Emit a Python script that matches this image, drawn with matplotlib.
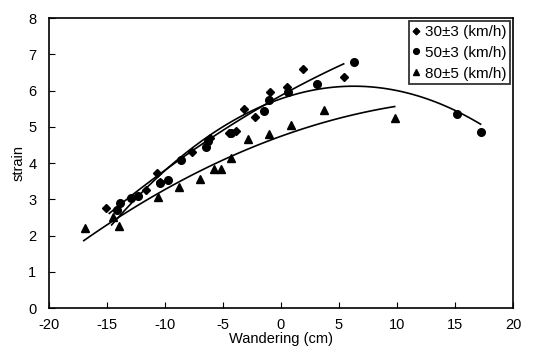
import numpy as np
import matplotlib
matplotlib.use("Agg")
import matplotlib.pyplot as plt

plt.rcParams['font.family'] = ['Liberation Sans', 'DejaVu Sans']
plt.rcParams['axes.unicode_minus'] = False

# 30±3 km/h
x30 = [-15.1, -11.6, -10.7, -10.4, -7.7, -6.1, -4.5, -3.9, -3.2, -2.2, -0.95, 0.5, 1.9, 5.4]
y30 = [2.76, 3.26, 3.72, 3.48, 4.30, 4.69, 4.83, 4.88, 5.49, 5.27, 5.96, 6.10, 6.59, 6.37]
# 50±3 km/h
x50 = [-13.9, -14.1, -12.9, -12.3, -10.45, -9.75, -8.6, -6.5, -6.3, -4.3, -1.5, -1.0, 0.6, 3.1, 6.25, 15.2, 17.2]
y50 = [2.90, 2.70, 3.03, 3.09, 3.44, 3.53, 4.08, 4.45, 4.60, 4.84, 5.43, 5.74, 5.96, 6.18, 6.79, 5.35, 4.85]
# 80±5 km/h
x80 = [-16.9, -14.5, -14.0, -10.6, -8.8, -7.0, -5.8, -5.2, -4.3, -2.85, -1.07, 0.9, 3.7, 9.8]
y80 = [2.22, 2.50, 2.25, 3.05, 3.33, 3.55, 3.83, 3.83, 4.13, 4.66, 4.80, 5.05, 5.46, 5.25]

fig = plt.figure(figsize=(5.46, 3.6), dpi=100)
ax = fig.add_axes([0.0897, 0.1444, 0.8499, 0.8056])

series = [
    (x30, y30, "D", 4.5, "30\u00b13 (km/h)", (-14.8, 5.4)),
    (x50, y50, "o", 5.5, "50\u00b13 (km/h)", (-14.6, 17.2)),
    (x80, y80, "^", 6, "80\u00b15 (km/h)", (-17.0, 9.8)),
]

for xs, ys, mk, ms, lab, (x0, x1) in series:
    ax.plot(xs, ys, linestyle="none", marker=mk, markersize=ms, color="black", label=lab)
    coef = np.polyfit(xs, ys, 2)
    xf = np.linspace(x0, x1, 100)
    ax.plot(xf, np.polyval(coef, xf), color="black", linewidth=1.2)

ax.set_xlim(-20, 20)
ax.set_ylim(0, 8)
ax.set_xticks(np.arange(-20, 21, 5))
ax.set_yticks(np.arange(0, 9, 1))
ax.tick_params(direction="in", length=4, labelsize=10.5, colors="black")
ax.tick_params(axis="x", pad=7)
ax.tick_params(axis="y", pad=9)
ax.set_xlabel("Wandering (cm)", fontsize=10.5, labelpad=0.5)
ax.set_ylabel("strain", fontsize=10.5, labelpad=2)
for s in ax.spines.values():
    s.set_linewidth(1.2)

leg = ax.legend(loc="upper right", fontsize=11, frameon=True, fancybox=False,
                edgecolor="black", handlelength=0.5, handletextpad=0.3,
                borderpad=0.25, labelspacing=0.45, markerscale=0.75,
                borderaxespad=0.2)
leg.get_frame().set_linewidth(1.3)

fig.savefig("out.png", dpi=100)
